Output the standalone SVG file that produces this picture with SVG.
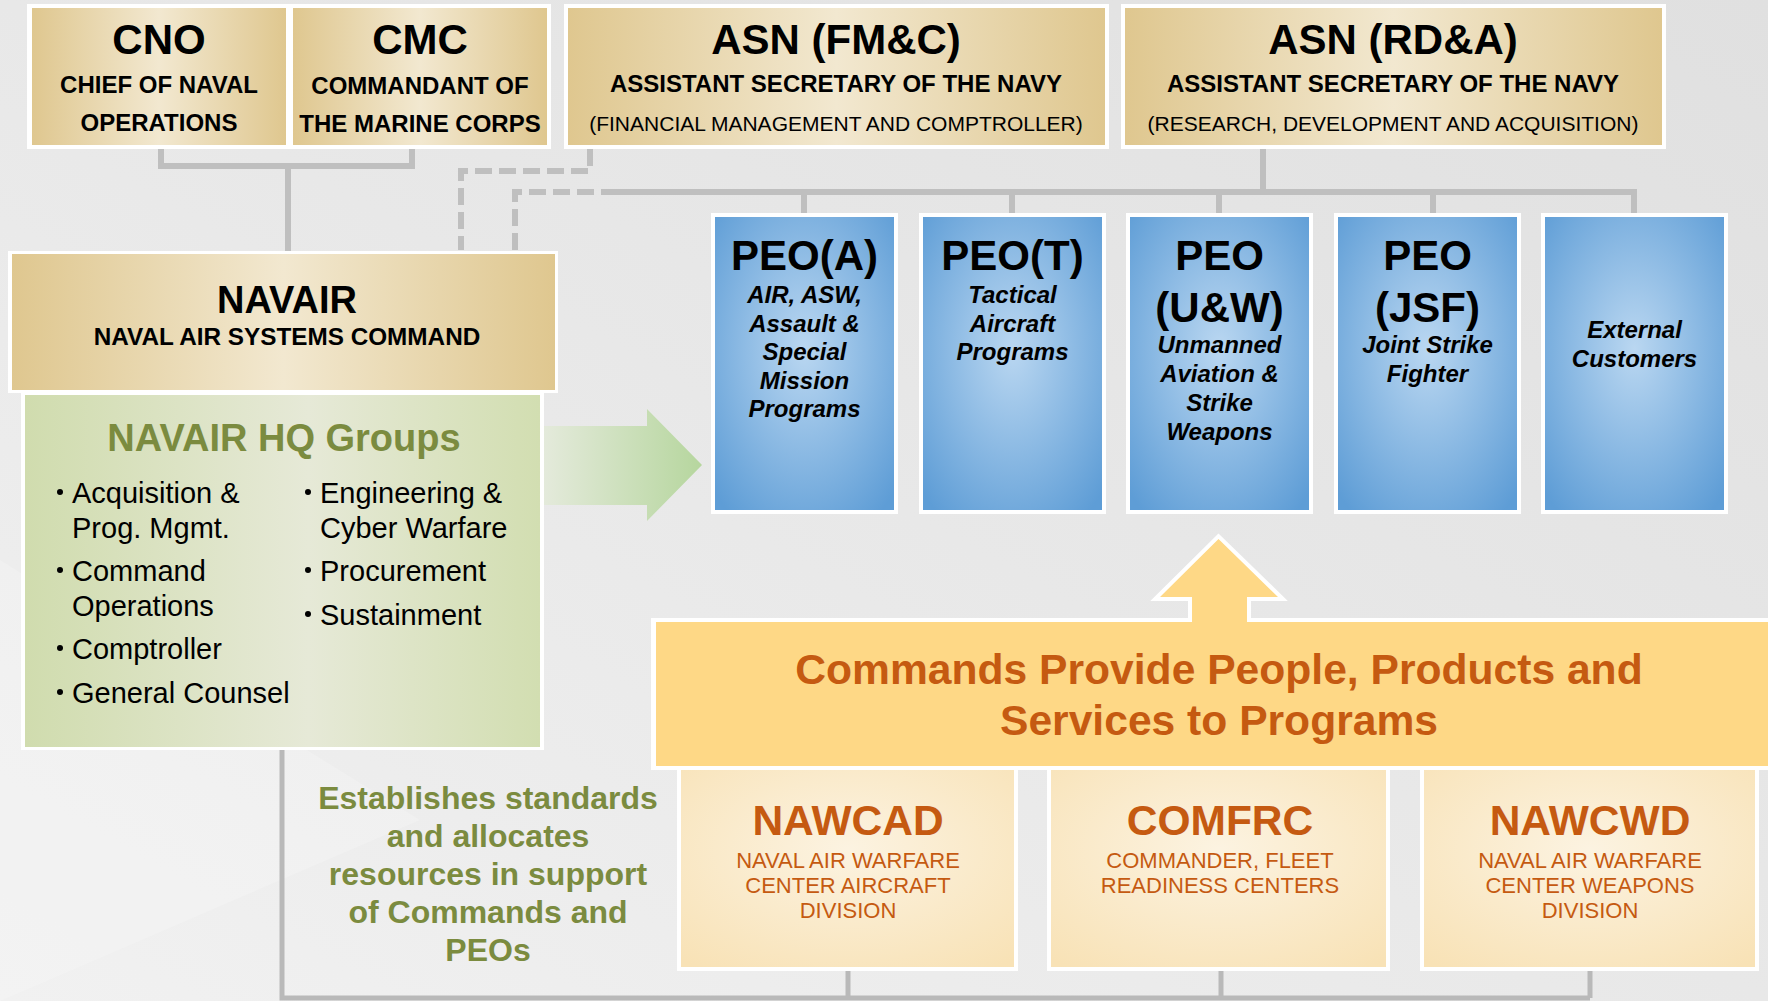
<svg xmlns="http://www.w3.org/2000/svg" width="1768" height="1001" viewBox="0 0 1768 1001">
<style>
text{font-family:"Liberation Sans",Arial,Helvetica,sans-serif;text-anchor:middle}
.t42{font-size:42px;font-weight:bold;fill:#000}
.t24{font-size:24px;font-weight:bold;fill:#000}
.t21{font-size:21px;fill:#000}
.it{font-size:24px;font-weight:bold;font-style:italic;fill:#000}
.bl{font-size:29px;fill:#000;text-anchor:start}
.ol{fill:#7b8b3f;font-weight:bold}
.or{fill:#c55a11}
.wb{fill:#fff}
.tan{fill:url(#tan)}
.blue{fill:url(#blue)}
.cream{fill:url(#cream)}
.ln{fill:none;stroke:#bfbfbf;stroke-width:6}
.dash{fill:none;stroke:#bfbfbf;stroke-width:6;stroke-dasharray:17 7}
</style>
<defs>
<linearGradient id="bg" x1="1" y1="0" x2="0" y2="1">
<stop offset="0" stop-color="#e0e0e0"/>
<stop offset="0.5" stop-color="#e8e8e8"/>
<stop offset="1" stop-color="#f1f1f1"/>
</linearGradient>
<linearGradient id="tan" x1="0" y1="0" x2="1" y2="0">
<stop offset="0" stop-color="#dfc78f"/>
<stop offset="0.5" stop-color="#f2e8d0"/>
<stop offset="1" stop-color="#dfc78f"/>
</linearGradient>
<linearGradient id="green" x1="0" y1="0" x2="1" y2="0">
<stop offset="0" stop-color="#d0dcae"/>
<stop offset="0.55" stop-color="#e6e9d7"/>
<stop offset="1" stop-color="#d2deb1"/>
</linearGradient>
<linearGradient id="garrow" x1="0" y1="0" x2="1" y2="0">
<stop offset="0" stop-color="#e4eadb"/>
<stop offset="1" stop-color="#b6d69e"/>
</linearGradient>
<radialGradient id="blue" cx="0.5" cy="0.45" r="0.7">
<stop offset="0" stop-color="#bad7f1"/>
<stop offset="1" stop-color="#5e9dd6"/>
</radialGradient>
<radialGradient id="cream" cx="0.5" cy="0.4" r="0.75">
<stop offset="0" stop-color="#fcf3e1"/>
<stop offset="1" stop-color="#f8e2b6"/>
</radialGradient>
</defs>

<rect x="0" y="0" width="1768" height="1001" fill="url(#bg)"/>
<polygon points="0,560 420,820 0,1001" fill="#ffffff" opacity="0.18"/>

<g id="connectors">
<path class="ln" d="M161,149 V166 H412 V149"/>
<path class="ln" d="M288,166 V251"/>
<path class="dash" d="M590,149 V171 H461 V250"/>
<path class="dash" d="M515,250 V192 H618"/>
<path class="ln" d="M615,192 H1634 V213"/>
<path class="ln" d="M1263,149 V192"/>
<path class="ln" d="M804,192 V213 M1012,192 V213 M1219,192 V213 M1433,192 V213"/>
<path d="M282,750 V998 H1590 M848,970 V998 M1221,970 V998 M1590,970 V998" fill="none" stroke="#b9b9b9" stroke-width="5"/>
</g>

<g id="cno">
<rect class="wb" x="27" y="4" width="262" height="145"/>
<rect class="tan" x="32" y="8" width="254" height="137"/>
<text class="t42" x="159" y="54">CNO</text>
<text class="t24" x="159" y="93">CHIEF OF NAVAL</text>
<text class="t24" x="159" y="131">OPERATIONS</text>
</g>
<g id="cmc">
<rect class="wb" x="289" y="4" width="262" height="145"/>
<rect class="tan" x="293" y="8" width="254" height="137"/>
<text class="t42" x="420" y="54">CMC</text>
<text class="t24" x="420" y="94">COMMANDANT OF</text>
<text class="t24" x="420" y="132">THE MARINE CORPS</text>
</g>
<g id="asn-fmc">
<rect class="wb" x="564" y="4" width="545" height="145"/>
<rect class="tan" x="568" y="8" width="537" height="137"/>
<text class="t42" x="836" y="54">ASN (FM&amp;C)</text>
<text class="t24" x="836" y="92">ASSISTANT SECRETARY OF THE NAVY</text>
<text class="t21" x="836" y="131">(FINANCIAL MANAGEMENT AND COMPTROLLER)</text>
</g>
<g id="asn-rda">
<rect class="wb" x="1121" y="4" width="545" height="145"/>
<rect class="tan" x="1125" y="8" width="537" height="137"/>
<text class="t42" x="1393" y="54">ASN (RD&amp;A)</text>
<text class="t24" x="1393" y="92">ASSISTANT SECRETARY OF THE NAVY</text>
<text class="t21" x="1393" y="131">(RESEARCH, DEVELOPMENT AND ACQUISITION)</text>
</g>

<g id="navair">
<rect class="wb" x="8" y="251" width="550" height="142"/>
<rect class="tan" x="12" y="254" width="543" height="136"/>
<text x="287" y="313" style="font-size:38px;font-weight:bold">NAVAIR</text>
<text class="t24" x="287" y="345" style="font-size:24.3px">NAVAL AIR SYSTEMS COMMAND</text>
</g>

<g id="hq-groups">
<rect class="wb" x="21" y="392" width="523" height="358"/>
<rect x="25" y="395" width="515" height="352" fill="url(#green)"/>
<text class="ol" x="284" y="451" style="font-size:38px">NAVAIR HQ Groups</text>
<g fill="#000">
<circle cx="60" cy="492" r="3"/><circle cx="60" cy="570" r="3"/><circle cx="60" cy="648" r="3"/><circle cx="60" cy="692" r="3"/>
<circle cx="308" cy="492" r="3"/><circle cx="308" cy="570" r="3"/><circle cx="308" cy="614" r="3"/>
</g>
<text class="bl" x="72" y="503">Acquisition &amp;</text>
<text class="bl" x="72" y="538">Prog. Mgmt.</text>
<text class="bl" x="72" y="581">Command</text>
<text class="bl" x="72" y="616">Operations</text>
<text class="bl" x="72" y="659">Comptroller</text>
<text class="bl" x="72" y="703">General Counsel</text>
<text class="bl" x="320" y="503">Engineering &amp;</text>
<text class="bl" x="320" y="538">Cyber Warfare</text>
<text class="bl" x="320" y="581">Procurement</text>
<text class="bl" x="320" y="625">Sustainment</text>
</g>

<g id="green-arrow">
<polygon points="544,426 647,426 647,409 702,465 647,521 647,505 544,505" fill="url(#garrow)"/>
</g>

<g id="peo-a">
<rect class="wb" x="711" y="213" width="187" height="301"/>
<rect class="blue" x="715" y="217" width="179" height="293"/>
<text class="t42" x="804.5" y="270">PEO(A)</text>
<text class="it" x="804.5" y="303">AIR, ASW,</text>
<text class="it" x="804.5" y="331.5">Assault &amp;</text>
<text class="it" x="804.5" y="360">Special</text>
<text class="it" x="804.5" y="388.5">Mission</text>
<text class="it" x="804.5" y="417">Programs</text>
</g>
<g id="peo-t">
<rect class="wb" x="919" y="213" width="187" height="301"/>
<rect class="blue" x="923" y="217" width="179" height="293"/>
<text class="t42" x="1012.5" y="270">PEO(T)</text>
<text class="it" x="1012.5" y="303">Tactical</text>
<text class="it" x="1012.5" y="331.5">Aircraft</text>
<text class="it" x="1012.5" y="360">Programs</text>
</g>
<g id="peo-uw">
<rect class="wb" x="1126" y="213" width="187" height="301"/>
<rect class="blue" x="1130" y="217" width="179" height="293"/>
<text class="t42" x="1219.5" y="270">PEO</text>
<text class="t42" x="1219.5" y="322">(U&amp;W)</text>
<text class="it" x="1219.5" y="353">Unmanned</text>
<text class="it" x="1219.5" y="382">Aviation &amp;</text>
<text class="it" x="1219.5" y="411">Strike</text>
<text class="it" x="1219.5" y="440">Weapons</text>
</g>
<g id="peo-jsf">
<rect class="wb" x="1334" y="213" width="187" height="301"/>
<rect class="blue" x="1338" y="217" width="179" height="293"/>
<text class="t42" x="1427.5" y="270">PEO</text>
<text class="t42" x="1427.5" y="322">(JSF)</text>
<text class="it" x="1427.5" y="353">Joint Strike</text>
<text class="it" x="1427.5" y="382">Fighter</text>
</g>
<g id="external">
<rect class="wb" x="1541" y="213" width="187" height="301"/>
<rect class="blue" x="1545" y="217" width="179" height="293"/>
<text class="it" x="1634.5" y="338">External</text>
<text class="it" x="1634.5" y="367">Customers</text>
</g>

<g id="commands-provide">
<polygon points="1192,624 1192,597 1160,597 1218.5,539 1278,597 1247,597 1247,624" fill="#fed886" stroke="#fff" stroke-width="8" stroke-linejoin="miter"/>
<rect class="wb" x="651" y="618" width="1120" height="152"/>
<rect x="656" y="622" width="1115" height="144" fill="#fed886"/>
<polygon points="1192,626 1192,597 1160,597 1218.5,539 1278,597 1247,597 1247,626" fill="#fed886"/>
<text class="or" x="1219" y="684" style="font-size:42.6px;font-weight:bold">Commands Provide People, Products and</text>
<text class="or" x="1219" y="735" style="font-size:42.6px;font-weight:bold">Services to Programs</text>
</g>

<g id="nawcad">
<rect class="wb" x="677" y="766" width="341" height="205"/>
<rect class="cream" x="681" y="770" width="333" height="197"/>
<text class="or" x="848" y="835" style="font-size:42.5px;font-weight:bold">NAWCAD</text>
<text class="or" x="848" y="868" style="font-size:22px">NAVAL AIR WARFARE</text>
<text class="or" x="848" y="893" style="font-size:22px">CENTER AIRCRAFT</text>
<text class="or" x="848" y="918" style="font-size:22px">DIVISION</text>
</g>
<g id="comfrc">
<rect class="wb" x="1047" y="766" width="343" height="205"/>
<rect class="cream" x="1051" y="770" width="335" height="197"/>
<text class="or" x="1220" y="835" style="font-size:42.5px;font-weight:bold">COMFRC</text>
<text class="or" x="1220" y="868" style="font-size:22px">COMMANDER, FLEET</text>
<text class="or" x="1220" y="893" style="font-size:22px">READINESS CENTERS</text>
</g>
<g id="nawcwd">
<rect class="wb" x="1420" y="766" width="339" height="205"/>
<rect class="cream" x="1424" y="770" width="331" height="197"/>
<text class="or" x="1590" y="835" style="font-size:42.5px;font-weight:bold">NAWCWD</text>
<text class="or" x="1590" y="868" style="font-size:22px">NAVAL AIR WARFARE</text>
<text class="or" x="1590" y="893" style="font-size:22px">CENTER WEAPONS</text>
<text class="or" x="1590" y="918" style="font-size:22px">DIVISION</text>
</g>

<g id="establishes-note">
<text class="ol" x="488" y="809" style="font-size:32px">Establishes standards</text>
<text class="ol" x="488" y="847" style="font-size:32px">and allocates</text>
<text class="ol" x="488" y="885" style="font-size:32px">resources in support</text>
<text class="ol" x="488" y="923" style="font-size:32px">of Commands and</text>
<text class="ol" x="488" y="961" style="font-size:32px">PEOs</text>
</g>
</svg>
